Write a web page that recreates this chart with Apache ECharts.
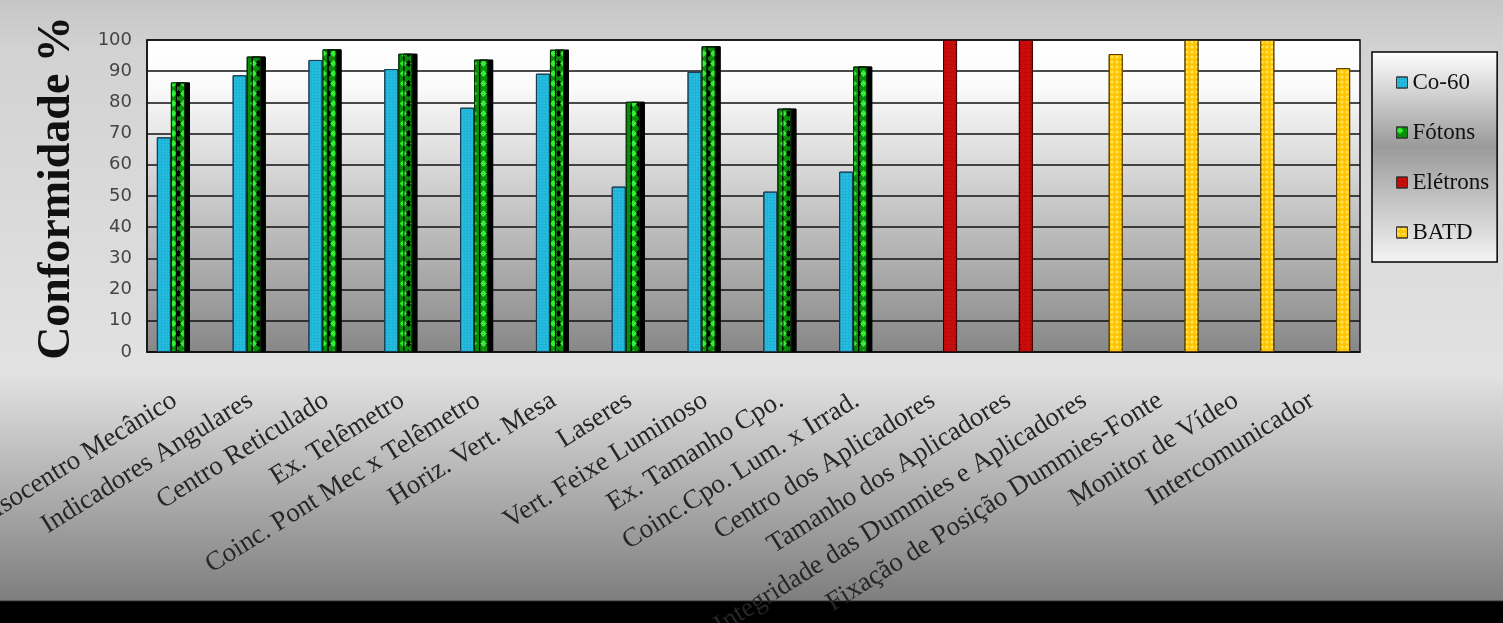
<!DOCTYPE html>
<html><head><meta charset="utf-8">
<script src="https://cdn.jsdelivr.net/npm/echarts@6/dist/echarts.min.js"></script>
<style>html,body{margin:0;padding:0;background:#000;}#c{width:1503px;height:623px;}</style>
</head><body><div id="c"></div>
<script>
const categories = ["Isocentro Mecânico","Indicadores Angulares","Centro Reticulado","Ex. Telêmetro","Coinc. Pont Mec x Telêmetro","Horiz. Vert. Mesa","Laseres","Vert. Feixe Luminoso","Ex. Tamanho Cpo.","Coinc.Cpo. Lum. x Irrad.","Centro dos Aplicadores","Tamanho dos Aplicadores","Integridade das Dummies e Aplicadores","Fixação de Posição Dummies-Fonte","Monitor de Vídeo","Intercomunicador"];
const co60    = [68.8, 88.7, 93.6, 90.7, 78.3, 89.2, 53.0, 89.8, 51.4, 57.8, null, null, null, null, null, null];
const fotons  = [86.4, 94.7, 97.0, 95.6, 93.7, 96.9, 80.2, 98.0, 78.0, 91.5, null, null, null, null, null, null];
const eletrons= [null, null, null, null, null, null, null, null, null, null, 100, 100, null, null, null, null];
const batd    = [null, null, null, null, null, null, null, null, null, null, null, null, 95.5, 100, 100, 91.0];
const seriesNames = ["Co-60","Fótons","Elétrons","BATD"];
const yTitle = "Conformidade %";

const chart = echarts.init(document.getElementById('c'));
const serif = '"Liberation Serif","DejaVu Serif",serif';
function lg(stops){return {type:'linear',x:0,y:0,x2:0,y2:1,colorStops:stops.map(s=>({offset:s[0],color:s[1]}))};}

const option = {
  animation:false,
  backgroundColor: lg([[0,'#c6c6c6'],[0.08,'#d2d2d2'],[0.6,'#e2e2e2'],[0.963,'#7e7e7e'],[0.966,'#000'],[1,'#000']]),
  grid:{left:147,right:143,top:40,bottom:271,show:true,borderColor:'#111',borderWidth:1.5,
        containLabel:false, outerBoundsMode:'none',
        backgroundColor: lg([[0,'#ffffff'],[0.15,'#fbfbfb'],[1,'#878787']])},
  legend:{
    orient:'vertical', left:1372, top:52, itemWidth:11, itemHeight:11, itemGap:27,
    padding:[19,8,18,24], borderColor:'#000', borderWidth:1.5,
    backgroundColor: lg([[0,'#ffffff'],[0.45,'#9a9a9a'],[1,'#f4f4f4']]),
    textStyle:{fontFamily:serif,fontSize:23,color:'#111'},
    icon:'rect',
    itemStyle:{borderColor:'#333',borderWidth:1}
  },
  xAxis:{type:'category',data:categories,
    axisLine:{lineStyle:{color:'#111',width:1.5}},axisTick:{show:false},
    axisLabel:{interval:0,rotate:32,margin:40,padding:[0,12,0,0],fontFamily:serif,fontSize:27,color:'#262626'}},
  yAxis:{type:'value',min:0,max:100,interval:10,
    axisLine:{show:true,lineStyle:{color:'#111',width:1.5}},axisTick:{show:false},
    splitLine:{lineStyle:{color:'#111',width:1.5}},
    axisLabel:{margin:15,fontFamily:'"DejaVu Sans",sans-serif',fontSize:18,color:'#444'}},
  graphic:[{type:'text',x:57,y:188,rotation:Math.PI/2,
    style:{text:yTitle,font:'bold 46px '+serif,fill:'#111',textAlign:'center',textVerticalAlign:'middle'}}],
  series:[
    {name:seriesNames[0],type:'bar',data:co60,barGap:'0%',barCategoryGap:'26%',
     itemStyle:{color:'#1bb4d8',borderColor:'#1a3a50',borderWidth:1,
       decal:{symbol:'rect',symbolSize:0.6,color:'rgba(120,220,240,0.6)',dashArrayX:[[2,1]],dashArrayY:[2,1]}}},
    {name:seriesNames[1],type:'bar',data:fotons,
     itemStyle:{color:'#0a8c0a',borderColor:'#003000',borderWidth:1,
       shadowColor:'#000',shadowOffsetX:5,shadowOffsetY:0,shadowBlur:0,
       decal:{symbol:'diamond',symbolSize:1,color:'#33f033',dashArrayX:[[7,3]],dashArrayY:[7,3]}}},
    {name:seriesNames[2],type:'bar',data:eletrons,
     itemStyle:{color:'#c80c0c',borderColor:'#400000',borderWidth:1,
       decal:{symbol:'rect',symbolSize:1,color:'rgba(110,0,0,0.7)',dashArrayX:[[1,4]],dashArrayY:[1,3]}}},
    {name:seriesNames[3],type:'bar',data:batd,
     itemStyle:{color:'#ffc400',borderColor:'#5a4000',borderWidth:1,
       decal:{symbol:'circle',symbolSize:0.8,color:'rgba(255,235,110,0.8)',dashArrayX:[[4,1]],dashArrayY:[4,1]}}}
  ]
};
chart.setOption(option);
</script></body></html>
